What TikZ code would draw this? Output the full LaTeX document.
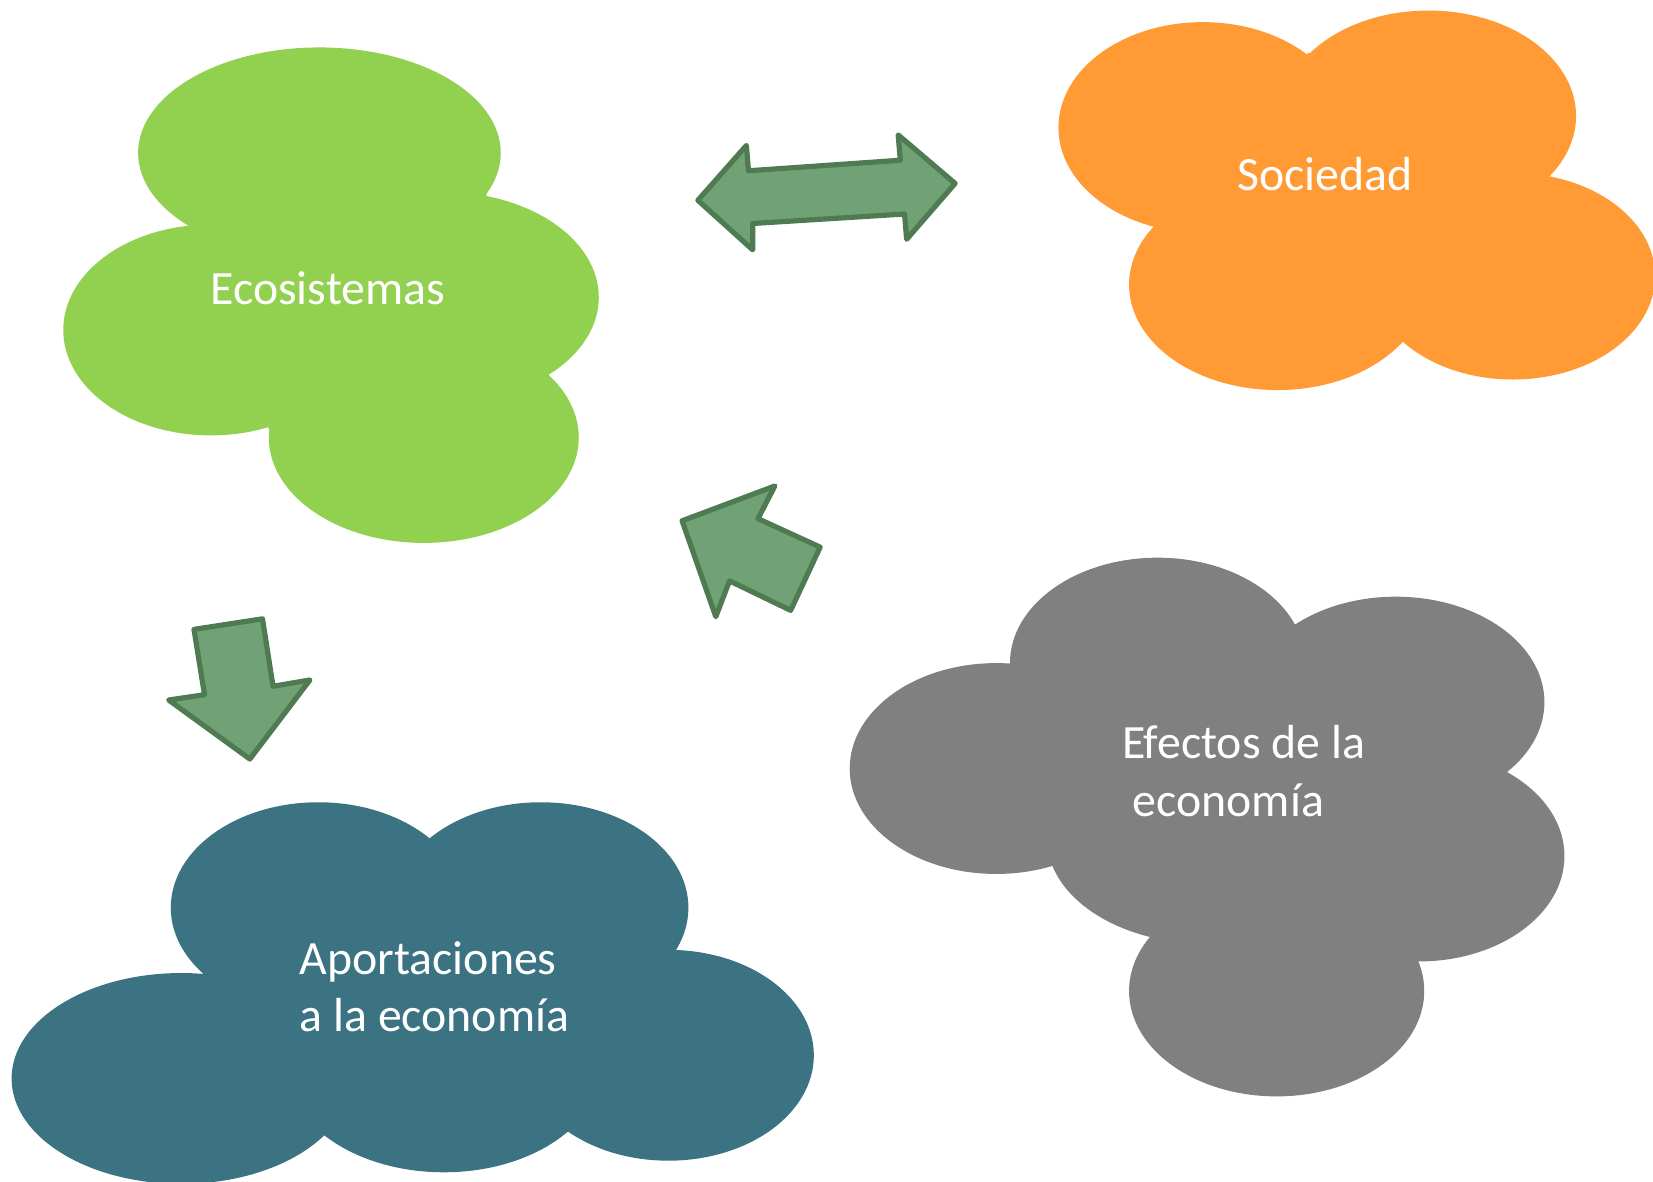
\documentclass[tikz,border=0pt]{standalone}
\usepackage{xcolor}
\usepackage{fontspec}
\setmainfont{Carlito}
\usetikzlibrary{calc}

\definecolor{ecogreen}{RGB}{146,208,80}
\definecolor{socorange}{RGB}{255,154,52}
\definecolor{efgray}{RGB}{128,128,128}
\definecolor{apteal}{RGB}{60,115,130}
\definecolor{arrowfill}{RGB}{112,162,118}
\definecolor{arrowline}{RGB}{79,123,83}

\begin{document}
\begin{tikzpicture}[x=0.02cm,y=-0.02cm,
	blockarrow/.style={fill=arrowfill,draw=arrowline,line width=2.8pt,line join=round},
	lbl/.style={text=white,inner sep=0pt,font=\fontsize{25.8}{31.3}\selectfont}]
	\useasboundingbox (0,0) rectangle (1568,1121);
	\clip (0,0) rectangle (1568,1121);

	% Ecosistemas
	\fill[ecogreen] (303,145) ellipse (172 and 100);
	\fill[ecogreen] (200,313) ellipse (140 and 100);
	\fill[ecogreen] (420,282) ellipse (148 and 100);
	\fill[ecogreen] (402,415) ellipse (147 and 100);
	\fill[ecogreen] (178,213) -- (461,184) -- (521,355) -- (255,407) -- cycle;
	\node[lbl] (eco) at (311,273) {Ecosistemas};

	% Sociedad
	\fill[socorange] (1141,121) ellipse (137 and 100);
	\fill[socorange] (1355,110) ellipse (140 and 100);
	\fill[socorange] (1435,262) ellipse (135 and 98);
	\fill[socorange] (1212,270) ellipse (141 and 100);
	\fill[socorange] (1094,214) -- (1241,50) -- (1473,163) -- (1328,327) -- cycle;
	\node[lbl] (soc) at (1257,165) {Sociedad};

	% Efectos de la economia
	\fill[efgray] (1098,629) ellipse (140 and 100);
	\fill[efgray] (1324,666) ellipse (141 and 100);
	\fill[efgray] (1346,812) ellipse (138 and 100);
	\fill[efgray] (1211,940) ellipse (140 and 100);
	\fill[efgray] (945,729) ellipse (139 and 100);
	\fill[efgray] (1143,795) ellipse (150 and 100);
	\fill[efgray] (958,629) -- (1228,592) -- (1429,731) -- (1346,911) -- (1092,886) -- (998,821) -- cycle;
	\node[lbl,anchor=west,align=left] (efe) at (1064,731) {Efectos de la\\~economía};

	% Aportaciones a la economia
	\fill[apteal] (302,861) ellipse (140 and 100);
	\fill[apteal] (513,861) ellipse (140 and 100);
	\fill[apteal] (634,1001) ellipse (138 and 100);
	\fill[apteal] (421,1012) ellipse (149 and 100);
	\fill[apteal] (172,1023) ellipse (161 and 100);
	\fill[apteal] (192,923) -- (409,795) -- (641,901) -- (538,1074) -- (309,1078) -- cycle;
	\node[lbl,anchor=west,align=left] (apo) at (284,936) {Aportaciones\\a la economía};

	% arrows
	\filldraw[blockarrow] (662,190) -- (708,138) -- (710,162) -- (854,152) -- (852,128)
		-- (906,174) -- (860,227) -- (858,203) -- (714,212) -- (714,237) -- cycle;
	\filldraw[blockarrow] (647,494) -- (735,461) -- (719,492) -- (778,519) -- (750,579)
		-- (692,551) -- (679,585) -- cycle;
	\filldraw[blockarrow] (184,597) -- (249,587) -- (259,651) -- (294,645) -- (237,720)
		-- (160,664) -- (194,659) -- cycle;
\end{tikzpicture}
\end{document}
